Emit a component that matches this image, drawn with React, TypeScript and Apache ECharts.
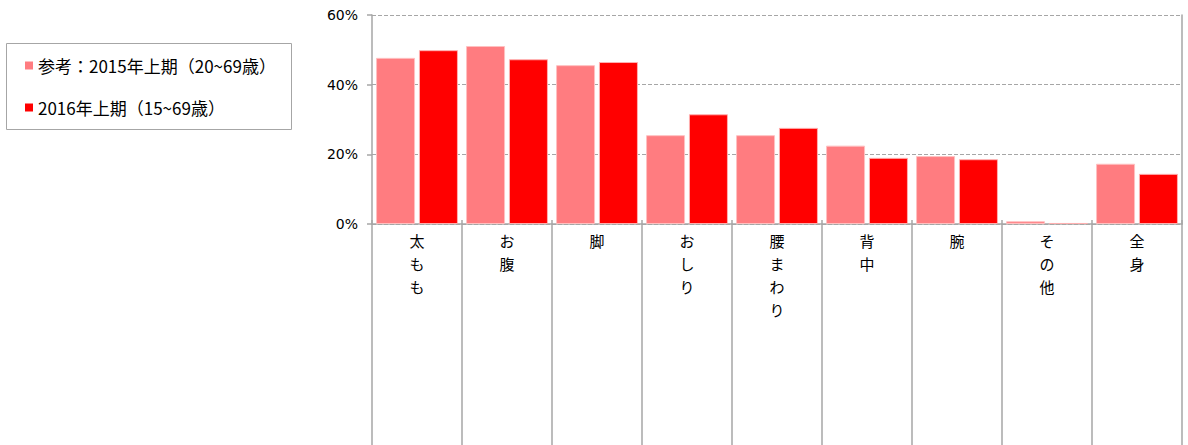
import React, { useEffect, useRef } from "react";
import * as echarts from "echarts";

const categories = ["太もも", "お腹", "脚", "おしり", "腰まわり", "背中", "腕", "その他", "全身"];
const seriesNames = ["参考：2015年上期（20~69歳）", "2016年上期（15~69歳）"];
const values2015 = [47.7, 51.1, 45.6, 25.5, 25.5, 22.5, 19.5, 0.8, 17.3];
const values2016 = [49.9, 47.3, 46.5, 31.5, 27.6, 19.0, 18.6, 0.3, 14.4];
const yTicks = [0, 20, 40, 60];
const colors = ["#FF7C80", "#FF0000"];

export default function App() {
  const ref = useRef<HTMLDivElement>(null);
  useEffect(() => {
    document.body.style.margin = "0";
    const chart = echarts.init(ref.current!, null, { renderer: "svg" });
    const axisGray = "#A6A6A6";
    chart.setOption({
      animation: false,
      backgroundColor: "#ffffff",
      legend: {
        orient: "vertical",
        left: 25,
        top: 57,
        itemWidth: 8,
        itemHeight: 8,
        itemGap: 25,
        icon: "rect",
        padding: 0,
        itemStyle: { borderWidth: 0 },
        textStyle: { fontFamily: "Noto Sans CJK JP", fontSize: 17, color: "#000", padding: [0, 0, 0, 0] },
        data: seriesNames,
      },
      graphic: [
        {
          type: "rect",
          shape: { x: 6.5, y: 43.5, width: 285, height: 86 },
          style: { fill: "none", stroke: "#A6A6A6", lineWidth: 1 },
          z: -1,
        },
      ],
      grid: { left: 372, top: 15, width: 810, height: 209, containLabel: false },
      xAxis: [
        {
          type: "category",
          data: categories,
          axisLine: { show: true, lineStyle: { color: axisGray, width: 1.5 } },
          axisTick: { show: true, length: 225, interval: 0, lineStyle: { color: axisGray, width: 1.5 } },
          axisLabel: {
            interval: 0,
            margin: 5,
            fontFamily: "Noto Sans CJK JP",
            fontSize: 15,
            lineHeight: 23,
            color: "#000",
            verticalAlign: "top",
            formatter: (v: string) => v.split("").join("\n"),
          },
        },
        {
          type: "category",
          data: categories,
          position: "bottom",
          axisLine: { show: false },
          axisTick: { show: true, inside: true, length: 4, interval: 0, lineStyle: { color: axisGray, width: 1.5 } },
          axisLabel: { show: false },
        },
      ],
      yAxis: [
        {
          type: "value",
          min: 0,
          max: 60,
          interval: 20,
          axisLine: { show: true, lineStyle: { color: axisGray, width: 1.5 } },
          axisTick: { show: true, length: 5, lineStyle: { color: axisGray, width: 1.5 } },
          axisLabel: {
            margin: 14,
            fontFamily: "DejaVu Sans",
            fontSize: 14,
            color: "#000",
            formatter: (v: number) => (yTicks.includes(v) ? v + "%" : ""),
          },
          splitLine: { show: true, lineStyle: { color: axisGray, type: [4, 2], width: 1 } },
        },
        {
          type: "value",
          min: 0,
          max: 60,
          interval: 20,
          position: "right",
          axisLine: { show: true, lineStyle: { color: axisGray, width: 1.5 } },
          axisTick: { show: false },
          axisLabel: { show: false },
          splitLine: { show: false },
        },
      ],
      series: [
        {
          name: seriesNames[0],
          type: "bar",
          data: values2015,
          barWidth: 39,
          barGap: "10%",
          itemStyle: { color: colors[0], borderColor: "#FFC0C0", borderWidth: 1 },
        },
        {
          name: seriesNames[1],
          type: "bar",
          data: values2016,
          barWidth: 39,
          barGap: "10%",
          itemStyle: { color: colors[1], borderColor: "#FFB0B0", borderWidth: 1 },
        },
      ],
    });
    return () => chart.dispose();
  }, []);
  return <div ref={ref} style={{ width: 1188, height: 445 }} />;
}
